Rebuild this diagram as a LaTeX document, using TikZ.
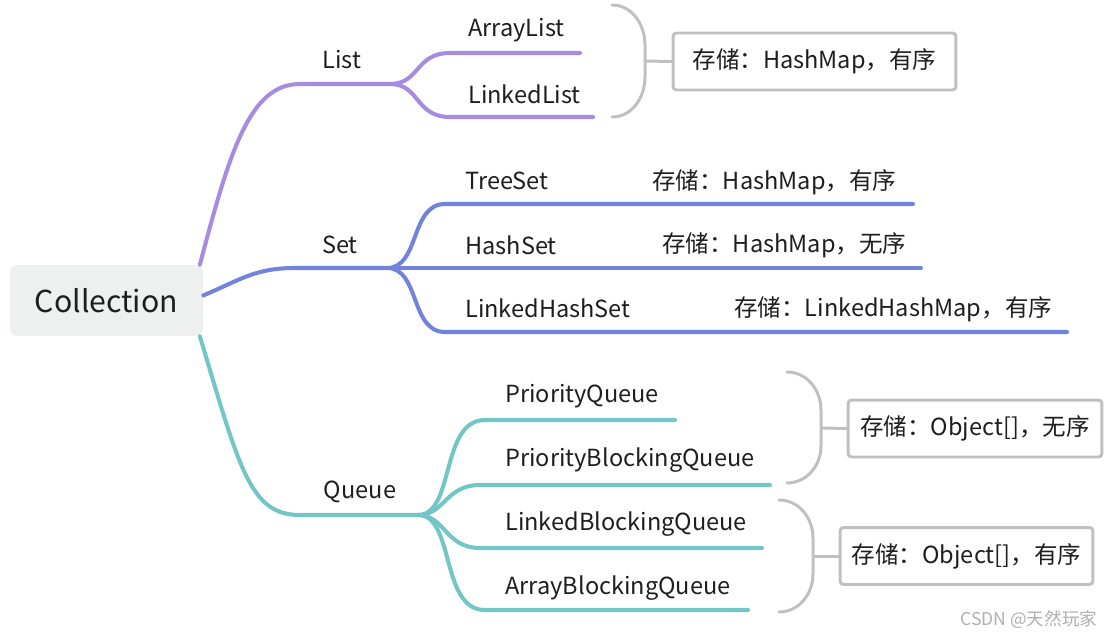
\documentclass[tikz,border=0pt]{standalone}
\usepackage{fontspec}
\setmainfont{Noto Sans CJK SC}
\usetikzlibrary{calc}

\definecolor{ink}{RGB}{30,30,30}
\definecolor{rootfill}{RGB}{238,240,240}
\definecolor{listc}{RGB}{166,139,224}
\definecolor{setc}{RGB}{114,131,219}
\definecolor{queuec}{RGB}{114,198,198}
\definecolor{brk}{RGB}{192,192,192}
\definecolor{wm}{RGB}{175,175,175}

\begin{document}
\begin{tikzpicture}[x=0.02cm, y=-0.02cm,
    lbl/.style={anchor=west, inner sep=0pt, text=ink, font=\fontsize{13.4}{16}\selectfont},
    head/.style={inner sep=0pt, text=ink, font=\fontsize{13.4}{16}\selectfont},
    store/.style={draw=brk, line width=1.7pt, rounded corners=2pt, fill=white,
        minimum height=1.14cm, inner xsep=0pt, text=ink, font=\fontsize{13.4}{16}\selectfont},
    branch/.style={line width=2.3pt, line cap=round},
    brace/.style={draw=brk, line width=1.7pt, line cap=round}]
    \useasboundingbox (0,0) rectangle (1112,639);

    % Root
    \node[fill=rootfill, rounded corners=4pt, minimum width=3.86cm, minimum height=1.42cm,
        text=ink, font=\fontsize{17.2}{21}\selectfont] (coll) at (106.5,300.5) {Collection};

    % Main branches
    \node[head] (list) at (342,60) {List};
    \node[head] (set) at (340,245) {Set};
    \node[head] (queue) at (360,492) {Queue};
    \coordinate (lfork) at (390,84);
    \coordinate (sfork) at (387,268);
    \coordinate (qfork) at (418,515);

    \draw[branch, listc] (coll.21) .. controls (230,150) and (250,84) .. (300,84) -- (lfork);
    \draw[branch, setc] (coll.3) .. controls (240,280) and (255,268) .. (295,268) -- (sfork);
    \draw[branch, queuec] (coll.-21) .. controls (240,470) and (250,515) .. (300,515) -- (qfork);

    % List
    \node[lbl] (alist) at (468,30) {ArrayList};
    \node[lbl] (llist) at (468,94) {LinkedList};
    \draw[branch, listc] (lfork) .. controls (420,84) and (415,53) .. (450,53) -- (580,53);
    \draw[branch, listc] (lfork) .. controls (420,84) and (415,117) .. (450,117) -- (593,117);

    \coordinate (lbtop) at (612,5);
    \coordinate (lbbot) at (612,117);
    \coordinate (lbmid) at (645,61);
    \node[store, minimum width=5.66cm] (lstore) at (814.5,61.5) {存储：HashMap，有序};
    \draw[brace] (lbtop) to[out=0, in=90] (645,45) -- (645,77) to[out=-90, in=0] (lbbot);
    \draw[brace] (lbmid) -- (lstore.west);

    % Set
    \node[lbl] (tset) at (465,181) {TreeSet};
    \node[lbl] (hset) at (465,245) {HashSet};
    \node[lbl] (lhset) at (465,308) {LinkedHashSet};
    \node[lbl] (tmap) at (652,182) {存储：HashMap，有序};
    \node[lbl] (hmap) at (662,245) {存储：HashMap，无序};
    \node[lbl] (lhmap) at (734,309) {存储：LinkedHashMap，有序};
    \draw[branch, setc] (sfork) .. controls (420,268) and (410,204) .. (445,204) -- (913,204);
    \draw[branch, setc] (sfork) -- (921,268);
    \draw[branch, setc] (sfork) .. controls (420,268) and (410,332) .. (445,332) -- (1067,332);

    % Queue
    \node[lbl] (pq) at (505,396) {PriorityQueue};
    \node[lbl] (pbq) at (505,460) {PriorityBlockingQueue};
    \node[lbl] (lbq) at (505,524) {LinkedBlockingQueue};
    \node[lbl] (abq) at (505,588) {ArrayBlockingQueue};
    \draw[branch, queuec] (qfork) .. controls (455,515) and (440,420) .. (485,420) -- (675,420);
    \draw[branch, queuec] (qfork) .. controls (445,515) and (445,485) .. (480,485) -- (770,485);
    \draw[branch, queuec] (qfork) .. controls (445,515) and (445,548) .. (480,548) -- (762,548);
    \draw[branch, queuec] (qfork) .. controls (455,515) and (440,610) .. (485,610) -- (748,610);

    \coordinate (q1top) at (787,372);
    \coordinate (q1bot) at (787,483);
    \coordinate (q1mid) at (821,428);
    \node[store, minimum width=5.08cm] (q1store) at (975,428.5) {存储：Object[]，无序};
    \draw[brace] (q1top) to[out=0, in=90] (821,410) -- (821,446) to[out=-90, in=0] (q1bot);
    \draw[brace] (q1mid) -- (q1store.west);

    \coordinate (q2top) at (779,500);
    \coordinate (q2bot) at (779,612);
    \coordinate (q2mid) at (813,556);
    \node[store, minimum width=5.06cm] (q2store) at (966.5,556) {存储：Object[]，有序};
    \draw[brace] (q2top) to[out=0, in=90] (813,538) -- (813,574) to[out=-90, in=0] (q2bot);
    \draw[brace] (q2mid) -- (q2store.west);

    % Watermark
    \node[anchor=west, inner sep=0pt, text=wm, font=\fontsize{10}{12}\selectfont] (mark) at (960,620) {CSDN @天然玩家};
\end{tikzpicture}
\end{document}
